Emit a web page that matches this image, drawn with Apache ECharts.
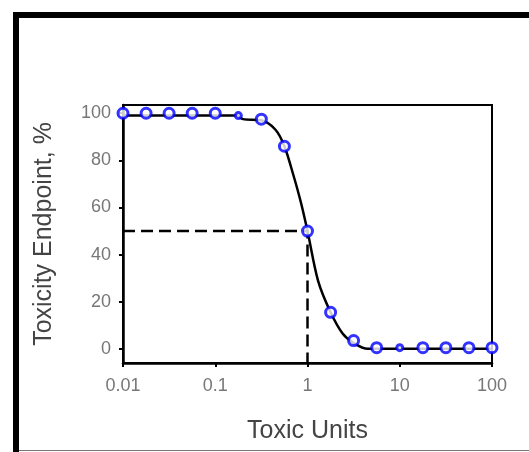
<!DOCTYPE html>
<html>
<head>
<meta charset="utf-8">
<script src="https://cdn.jsdelivr.net/npm/echarts@6/dist/echarts.min.js"></script>
<style>
html,body{margin:0;padding:0;background:#fff;}
#c{width:529px;height:452px;}
</style>
</head>
<body>
<div id="c"></div>
<script>
// Data
var toxicUnits = [0.01, 0.0178, 0.0316, 0.0562, 0.1, 0.178, 0.316, 0.562, 1, 1.78, 3.16, 5.62, 10, 17.8, 31.6, 56.2, 100];
var endpoint   = [100, 100, 100, 100, 100, 99, 97.5, 86, 50, 15.5, 3.5, 0.5, 0.5, 0.5, 0.5, 0.5, 0.5];
var curveX = [0.01, 0.1, 0.17, 0.2, 0.316, 0.45, 0.562, 0.7, 0.85, 1, 1.3, 1.78, 2.4, 3.16, 4.5, 100];
var curveY = [99, 99, 99, 97.5, 97, 93, 86, 74, 62, 50, 29, 15.5, 6.5, 2.5, 0, 0];
var refX = [0.01, 1, 1];
var refY = [50, 50, -6];
var xTicks = [0.01, 0.1, 1, 10, 100];
var yTicks = [0, 20, 40, 60, 80, 100];

function zip(a, b) { return a.map(function (v, i) { return [v, b[i]]; }); }

var chart = echarts.init(document.getElementById('c'), null, {renderer: 'canvas'});
chart.setOption({
  animation: false,
  backgroundColor: '#ffffff',
  graphic: [
    {type: 'polyline', shape: {points: [[16, 452], [16, 15], [529, 15]]},
     style: {stroke: '#000', lineWidth: 6, fill: null}, z: 100},
    {type: 'line', shape: {x1: 19, y1: 450.5, x2: 529, y2: 450.5},
     style: {stroke: '#777', lineWidth: 1}, z: 100}
  ],
  grid: {left: 123, top: 105, right: 37, bottom: 89, show: true,
         borderColor: '#000', borderWidth: 2, backgroundColor: 'transparent'},
  xAxis: {
    type: 'log', logBase: 10, min: 0.01, max: 100,
    name: 'Toxic Units', nameLocation: 'middle', nameGap: 56,
    nameTextStyle: {fontFamily: 'Liberation Sans', fontSize: 25, color: '#444'},
    axisLine: {show: true, onZero: false, lineStyle: {color: '#000', width: 2.5}},
    axisTick: {show: true, length: 4, lineStyle: {color: '#000', width: 2}},
    axisLabel: {fontFamily: 'Liberation Sans', fontSize: 18, color: '#777', margin: 14,
      formatter: function (v) { return String(+v.toPrecision(3)); }},
    splitLine: {show: false}, minorTick: {show: false}
  },
  yAxis: {
    type: 'value', min: -6, max: 103.5,
    name: 'Toxicity Endpoint, %', nameLocation: 'middle', nameGap: 66,
    nameTextStyle: {fontFamily: 'Liberation Sans', fontSize: 25, color: '#444'},
    axisLine: {show: true, onZero: false, lineStyle: {color: '#000', width: 2.5}},
    axisTick: {show: true, length: 4, customValues: yTicks, lineStyle: {color: '#000', width: 2}},
    axisLabel: {fontFamily: 'Liberation Sans', fontSize: 18, color: '#777', margin: 12,
      customValues: yTicks},
    splitLine: {show: false}
  },
  series: [
    {type: 'line', data: zip(refX, refY), symbol: 'none', silent: true,
     lineStyle: {color: '#000', width: 2.5, type: [12, 6]}, z: 2},
    {type: 'line', data: zip(curveX, curveY), symbol: 'none', smooth: 0.3, silent: true,
     lineStyle: {color: '#000', width: 2.5}, z: 3},
    {type: 'scatter', data: zip(toxicUnits, endpoint), symbol: 'circle',
     symbolSize: function (v, p) { return (p.dataIndex === 5 || p.dataIndex === 12) ? 6 : 10; },
     itemStyle: {color: '#fff', borderColor: '#0000ff', borderWidth: 3}, z: 4}
  ]
});
</script>
</body>
</html>
